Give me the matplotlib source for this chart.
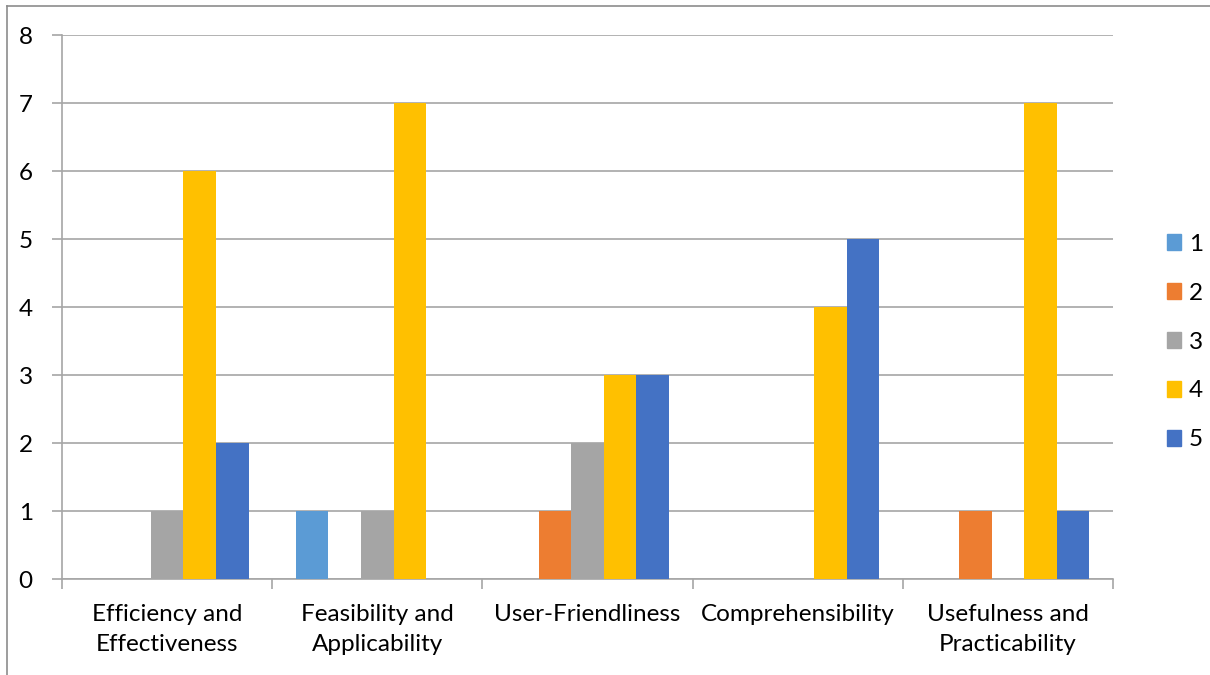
import numpy as np
import matplotlib
matplotlib.use("Agg")
import matplotlib.pyplot as plt
from matplotlib.lines import Line2D
from matplotlib.patches import Patch

plt.rcParams['font.family'] = ['Lato', 'DejaVu Sans']

categories = ["Efficiency and\nEffectiveness", "Feasibility and\nApplicability",
              "User-Friendliness", "Comprehensibility", "Usefulness and\nPracticability"]
series_names = ["1", "2", "3", "4", "5"]
s1 = [0, 1, 0, 0, 0]
s2 = [0, 0, 1, 0, 1]
s3 = [1, 1, 2, 0, 0]
s4 = [6, 7, 3, 4, 7]
s5 = [2, 0, 3, 5, 1]
colors = ["#5B9BD5", "#ED7D31", "#A5A5A5", "#FFC000", "#4472C4"]

W, H = 1210, 675
fig = plt.figure(figsize=(W / 100, H / 100), dpi=100)
ax = fig.add_axes([62 / W, 1 - 579 / H, (1113 - 62) / W, (579 - 35) / H])

x = np.arange(len(categories))
bw = 0.155
for i, vals in enumerate([s1, s2, s3, s4, s5]):
    ax.bar(x + (i - 2) * bw, vals, bw, color=colors[i], label=series_names[i], zorder=3)

ax.set_xlim(-0.5, len(categories) - 0.5)
ax.set_ylim(0, 8)
ax.set_yticks(range(0, 9))
ax.yaxis.grid(True, color="#A6A6A6", linewidth=1.2, zorder=0)
ax.set_xticks(x)
ax.set_xticklabels(categories, fontsize=17.5, linespacing=1.55)
ax.tick_params(axis='x', length=0, pad=18)
ax.set_xticks(np.arange(-0.5, len(categories)), minor=True)
ax.tick_params(axis='x', which='minor', length=7, color="#A6A6A6", width=1.2)
ax.tick_params(axis='y', length=7, color="#A6A6A6", width=1.2, labelsize=17.5, pad=14)
for side in ['top', 'right']:
    ax.spines[side].set_visible(False)
for side in ['left', 'bottom']:
    ax.spines[side].set_color("#A6A6A6")
    ax.spines[side].set_linewidth(1.2)

handles = [Patch(color=c) for c in colors]
fig.legend(handles, series_names, loc='center left', bbox_to_anchor=(1145 / W, 1 - 342 / H),
           frameon=False, fontsize=17.5, handlelength=0.6, handleheight=0.6,
           labelspacing=1.15, handletextpad=0.3)

# chart area border
fig.add_artist(Line2D([7 / W, 1], [1 - 6 / H, 1 - 6 / H], color="#8C8C8C", linewidth=1.2))
fig.add_artist(Line2D([7 / W, 7 / W], [0, 1 - 6 / H], color="#8C8C8C", linewidth=1.2))

fig.savefig("out.png", dpi=100)
